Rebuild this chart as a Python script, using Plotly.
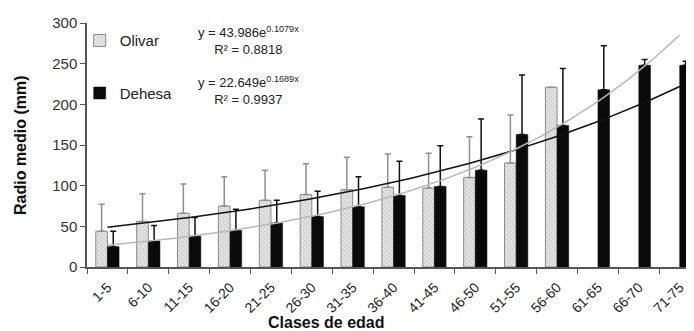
import numpy as np
import plotly.graph_objects as go

categories = ["1-5", "6-10", "11-15", "16-20", "21-25", "26-30", "31-35", "36-40",
              "41-45", "46-50", "51-55", "56-60", "61-65", "66-70", "71-75"]
olivar = [44, 56, 66, 75, 82, 89, 95, 98, 97, 110, 128, 221, None, None, None]
olivar_sd = [33, 34, 36, 36, 37, 38, 40, 41, 43, 50, 59, 0, 0, 0, 0]
dehesa = [25, 32, 38, 45, 54, 62, 74, 88, 99, 119, 163, 174, 218, 248, 248]
dehesa_sd = [19, 19, 23, 26, 28, 31, 37, 42, 50, 63, 73, 70, 54, 7, 5]

# trendline equations shown on the chart: y = a * exp(b * x)
fit_black = (43.986, 0.1079)   # drawn as the dark curve
fit_grey = (22.649, 0.1689)    # drawn as the light curve

fig = go.Figure()

fig.add_trace(go.Bar(
    x=categories, y=olivar, name="Olivar",
    marker=dict(color="#e4e4e4", line=dict(color="#8a8a8a", width=1),
                pattern=dict(shape="\\", fgcolor="#a0a0a0", bgcolor="#e6e6e6", size=3, solidity=0.3)),
    error_y=dict(type="data", array=olivar_sd, symmetric=False, arrayminus=[0]*15,
                 color="#8f8f8f", thickness=1.5, width=3),
    legendgroup="a",
))
fig.add_trace(go.Bar(
    x=categories, y=dehesa, name="Dehesa",
    marker=dict(color="#0a0a0a", line=dict(color="#0a0a0a", width=0.5)),
    error_y=dict(type="data", array=dehesa_sd, symmetric=False, arrayminus=[0]*15,
                 color="#111111", thickness=1.5, width=3),
    legendgroup="b",
))

xs = np.linspace(1, len(categories), 200)
fig.add_trace(go.Scatter(x=xs, y=fit_black[0]*np.exp(fit_black[1]*xs), mode="lines",
                         line=dict(color="#111111", width=1.5), xaxis="x2", showlegend=False))
fig.add_trace(go.Scatter(x=xs, y=fit_grey[0]*np.exp(fit_grey[1]*xs), mode="lines",
                         line=dict(color="#b8b8b8", width=1.5), xaxis="x2", showlegend=False))

right_ext = 14.35
fig.update_layout(
    width=686, height=323,
    margin=dict(l=79, r=0, t=15, b=64, autoexpand=False),
    plot_bgcolor="white", paper_bgcolor="white",
    barmode="group", bargap=0.43, bargroupgap=0,
    font=dict(family="Liberation Sans, Arial, sans-serif", color="#222"),
    xaxis=dict(type="category", range=[-0.5, right_ext], tickangle=-45, automargin=False,
               showline=True, linecolor="#555", linewidth=1.5,
               ticks="outside", ticklen=5, tickcolor="#555", tickson="boundaries",
               ticklabelstandoff=5,
               tickfont=dict(size=14, color="#222"), showgrid=False),
    xaxis2=dict(overlaying="x", range=[0.5, right_ext + 1], visible=False),
    yaxis=dict(range=[0, 300], dtick=50, showline=True, linecolor="#555", linewidth=1.5,
               ticks="outside", ticklen=5, tickcolor="#555", showgrid=False, zeroline=False,
               automargin=False, tickfont=dict(size=15, color="#333")),
    legend=dict(x=-0.012, xanchor="left", y=0.995, yanchor="top", bgcolor="rgba(0,0,0,0)",
                font=dict(size=15, color="#222"), tracegroupgap=30),
    showlegend=True,
)

fig.add_annotation(text="<b>Radio medio (mm)</b>", xref="paper", yref="paper",
                   x=(20-87)/607, y=0.5, xanchor="center", yanchor="middle", textangle=-90,
                   showarrow=False, font=dict(size=16, color="#111"))
fig.add_annotation(text="<b>Clases de edad</b>", xref="paper", yref="paper",
                   x=(326-87)/607, y=-(322-267)/244, xanchor="center", yanchor="middle",
                   showarrow=False, font=dict(size=16, color="#111"))
fig.add_annotation(text="y = 43.986e<sup>0.1079x</sup><br>R² = 0.8818", xref="paper", yref="paper",
                   x=(248-87)/607, y=(267-22)/244, xanchor="center", yanchor="top",
                   showarrow=False, align="center", font=dict(size=13, color="#222"))
fig.add_annotation(text="y = 22.649e<sup>0.1689x</sup><br>R² = 0.9937", xref="paper", yref="paper",
                   x=(248-87)/607, y=(267-72)/244, xanchor="center", yanchor="top",
                   showarrow=False, align="center", font=dict(size=13, color="#222"))

fig.write_html("out.html")
